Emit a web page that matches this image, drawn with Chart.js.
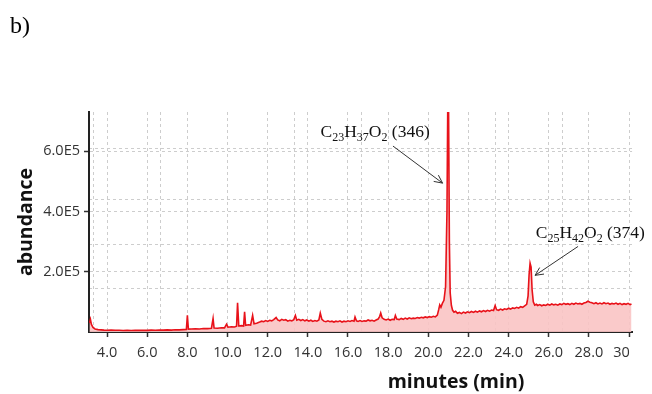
<!DOCTYPE html>
<html>
<head>
<meta charset="utf-8">
<script src="https://cdn.jsdelivr.net/npm/chart.js@4/dist/chart.umd.min.js"></script>
<style>
html,body{margin:0;padding:0;background:#fff;}
#wrap{width:652px;height:394px;position:relative;}
</style>
</head>
<body>
<div id="wrap"><canvas id="c" width="652" height="394"></canvas></div>
<script>
// ---- data ----
const minutes = [3.12,3.17,3.22,3.3,3.4,3.55,3.7,3.85,4.0,4.2,4.4,4.6,4.8,5.0,5.2,5.4,5.6,5.8,6.0,6.2,6.4,6.6,6.8,7.0,7.2,7.4,7.6,7.8,7.95,8.0,8.05,8.2,8.4,8.6,8.8,9.0,9.2,9.28,9.33,9.5,9.7,9.85,9.95,10.02,10.2,10.35,10.45,10.5,10.56,10.7,10.8,10.85,10.9,11.05,11.15,11.25,11.32,11.45,11.6,11.7,11.8,11.9,12.0,12.1,12.2,12.3,12.42,12.5,12.6,12.7,12.8,12.9,13.0,13.1,13.2,13.3,13.38,13.45,13.55,13.65,13.75,13.85,13.95,14.05,14.15,14.25,14.35,14.45,14.55,14.62,14.7,14.8,14.9,15.0,15.1,15.2,15.3,15.4,15.5,15.6,15.7,15.8,15.9,16.0,16.1,16.2,16.3,16.35,16.42,16.5,16.6,16.7,16.8,16.9,17.0,17.1,17.2,17.3,17.4,17.5,17.58,17.63,17.7,17.8,17.9,18.0,18.1,18.2,18.3,18.36,18.43,18.55,18.65,18.75,18.85,18.95,19.05,19.15,19.25,19.35,19.45,19.55,19.65,19.75,19.85,19.95,20.05,20.15,20.25,20.35,20.45,20.52,20.57,20.63,20.7,20.78,20.86,20.93,20.97,21.01,21.05,21.09,21.15,21.21,21.28,21.36,21.45,21.55,21.65,21.75,21.85,21.95,22.05,22.15,22.25,22.35,22.45,22.55,22.65,22.75,22.85,22.95,23.05,23.15,23.25,23.33,23.4,23.5,23.6,23.7,23.8,23.9,24.0,24.1,24.2,24.3,24.4,24.5,24.6,24.7,24.8,24.9,24.97,25.02,25.07,25.12,25.17,25.23,25.3,25.38,25.45,25.55,25.65,25.75,25.85,25.95,26.05,26.15,26.25,26.35,26.45,26.55,26.65,26.75,26.85,26.95,27.05,27.15,27.25,27.35,27.45,27.55,27.65,27.75,27.85,27.95,28.05,28.15,28.25,28.35,28.45,28.55,28.65,28.75,28.85,28.95,29.05,29.15,29.25,29.35,29.45,29.55,29.65,29.75,29.85,29.95,30.05,30.12];
const abundance = [30000,42000,25000,15000,10000,8000,7000,6200,5800,6300,5600,5900,5100,5700,5000,5800,5300,6000,5400,6300,5700,6600,6100,6900,6300,7300,7000,8000,8500,55000,9500,9800,10800,10200,11800,11200,12500,45000,13000,12600,14200,13800,26000,16000,17500,16800,19000,97000,20000,21000,20000,67000,22000,24000,23000,55000,27000,29000,33000,36000,34000,38000,35000,39000,37000,41000,48000,40000,37000,42000,39000,41000,36000,39000,37000,41000,55000,39000,42000,38000,41000,37000,40000,36000,39000,35000,38000,36000,40000,63000,42000,36000,34000,37000,34000,36000,33000,36000,34000,37000,33000,36000,34000,37000,35000,38000,36000,50000,37000,35000,38000,35000,37000,36000,40000,37000,39000,36000,40000,43000,52000,63000,47000,42000,40000,43000,39000,42000,41000,55000,43000,41000,45000,42000,46000,43000,47000,44000,46000,45000,48000,46000,49000,47000,50000,48000,51000,49000,52000,50000,56000,75000,90000,82000,95000,105000,150000,400000,760000,740000,300000,130000,88000,72000,66000,69000,62000,65000,61000,66000,63000,67000,64000,68000,65000,69000,66000,70000,67000,71000,68000,72000,69000,73000,71000,88000,74000,72000,76000,73000,77000,75000,79000,76000,80000,78000,82000,79000,84000,82000,87000,92000,120000,190000,228000,215000,140000,100000,89000,92000,88000,91000,87000,90000,88000,92000,89000,93000,90000,92000,89000,93000,91000,95000,92000,94000,91000,95000,92000,96000,93000,95000,92000,96000,98000,102000,99000,97000,94000,97000,93000,96000,93000,97000,94000,96000,92000,95000,93000,96000,92000,95000,91000,94000,92000,95000,91000,93000];

const xTicks = [4,6,8,10,12,14,16,18,20,22,24,26,28,30];
const yTicks = [200000,400000,600000];
const xExtraGrid = [3.33,6.67,13.33,16.67,23.33,26.67];
const yExtraGrid = [145000,292000,440000,610000];

const labelMain = [['C',''],['23','s'],['H',''],['37','s'],['O',''],['2','s'],[' (346)','']];
const labelSecond = [['C',''],['25','s'],['H',''],['42','s'],['O',''],['2','s'],[' (374)','']];
// annotation anchors in data units: text (x,y baseline), arrow from, arrow to
const notes = [
  {parts: labelMain, tx: 14.63, ty: 647000, ax: 18.24, ay: 617000, bx: 20.71, by: 494000},
  {parts: labelSecond, tx: 25.35, ty: 312000, ax: 27.46, ay: 284000, bx: 25.32, by: 188000}
];

const pts = minutes.map((m,i)=>({x:m,y:abundance[i]}));

const extrasPlugin = {
  id:'extras',
  afterDraw(chart){
    const ctx = chart.ctx;
    const xs = chart.scales.x, ys = chart.scales.y;
    ctx.save();
    // panel label
    ctx.fillStyle = '#000';
    ctx.font = '24px "Liberation Serif"';
    ctx.textBaseline = 'alphabetic';
    ctx.textAlign = 'left';
    ctx.fillText('b)', 10, 33);
    // axis titles
    ctx.font = 'bold 19.5px "Open Sans"';
    ctx.fillStyle = '#111';
    ctx.textAlign = 'center';
    ctx.textBaseline = 'middle';
    ctx.fillText('minutes (min)', 456, 382);
    ctx.save();
    ctx.translate(26, 222);
    ctx.rotate(-Math.PI/2);
    ctx.fillText('abundance', 0, 0);
    ctx.restore();
    // annotations
    notes.forEach(n=>{
      let x = xs.getPixelForValue(n.tx);
      const y = ys.getPixelForValue(n.ty);
      ctx.textAlign = 'left';
      ctx.textBaseline = 'alphabetic';
      ctx.fillStyle = '#111';
      n.parts.forEach(([t,k])=>{
        if(k==='s'){ ctx.font = '12px "Liberation Serif"'; ctx.fillText(t, x, y+4); }
        else { ctx.font = '17.5px "Liberation Serif"'; ctx.fillText(t, x, y); }
        x += ctx.measureText(t).width;
      });
      const x1 = xs.getPixelForValue(n.ax), y1 = ys.getPixelForValue(n.ay);
      const x2 = xs.getPixelForValue(n.bx), y2 = ys.getPixelForValue(n.by);
      ctx.strokeStyle = '#333';
      ctx.lineWidth = 1;
      ctx.beginPath(); ctx.moveTo(x1,y1); ctx.lineTo(x2,y2); ctx.stroke();
      const ang = Math.atan2(y2-y1, x2-x1);
      const L = 9, w = 0.45;
      ctx.beginPath();
      ctx.moveTo(x2 - L*Math.cos(ang-w), y2 - L*Math.sin(ang-w));
      ctx.lineTo(x2, y2);
      ctx.lineTo(x2 - L*Math.cos(ang+w), y2 - L*Math.sin(ang+w));
      ctx.stroke();
    });
    ctx.restore();
  }
};

const gridColor = '#cdcdcd';
new Chart(document.getElementById('c'), {
  type:'line',
  data:{datasets:[{
    data: pts,
    borderColor:'rgb(232,18,26)',
    borderWidth:1.6,
    backgroundColor:'rgba(249,196,196,0.9)',
    fill:'origin',
    pointRadius:0,
    tension:0
  }]},
  options:{
    responsive:false,
    animation:false,
    parsing:false,
    layout:{padding:{top:112,right:16,left:0,bottom:0}},
    plugins:{legend:{display:false},tooltip:{enabled:false}},
    scales:{
      x:{
        type:'linear', min:3.1, max:30.15,
        afterBuildTicks(s){ s.ticks = xTicks.map(v=>({value:v})); },
        afterFit(s){ s.height = 62; },
        ticks:{
          font:{family:'"Open Sans"', size:14.5}, color:'#333', padding:7, maxRotation:0, autoSkip:false,
          callback(v){ return v===30 ? '30    ' : v.toFixed(1); }
        },
        grid:{color:gridColor, lineWidth:1, drawTicks:true, tickLength:5, tickColor:'#333', tickWidth:1.5, tickBorderDash:[]},
        border:{display:true, color:'#222', width:2, dash:[3,3]}
      },
      y:{
        type:'linear', min:0, max:730000,
        afterBuildTicks(s){ s.ticks = yTicks.map(v=>({value:v})); },
        afterFit(s){ s.width = 89; },
        ticks:{
          font:{family:'"Open Sans"', size:14.5}, color:'#333', padding:4,
          callback(v){ return (v/1e5).toFixed(1)+'E5'; }
        },
        grid:{color:gridColor, lineWidth:1, drawTicks:true, tickLength:5, tickColor:'#333', tickWidth:1.5, tickBorderDash:[]},
        border:{display:true, color:'#222', width:2, dash:[3,3]}
      },
      x2:{
        type:'linear', position:'top', min:3.1, max:30.15,
        afterBuildTicks(s){ s.ticks = xExtraGrid.map(v=>({value:v})); },
        afterFit(s){ s.height = 0; },
        ticks:{display:false},
        grid:{color:gridColor, lineWidth:1, drawTicks:false},
        border:{display:false, dash:[3,3]}
      },
      y2:{
        type:'linear', position:'right', min:0, max:730000,
        afterBuildTicks(s){ s.ticks = yExtraGrid.map(v=>({value:v})); },
        afterFit(s){ s.width = 0; },
        ticks:{display:false},
        grid:{color:gridColor, lineWidth:1, drawTicks:false},
        border:{display:false, dash:[3,3]}
      }
    }
  },
  plugins:[extrasPlugin]
});
</script>
</body>
</html>
